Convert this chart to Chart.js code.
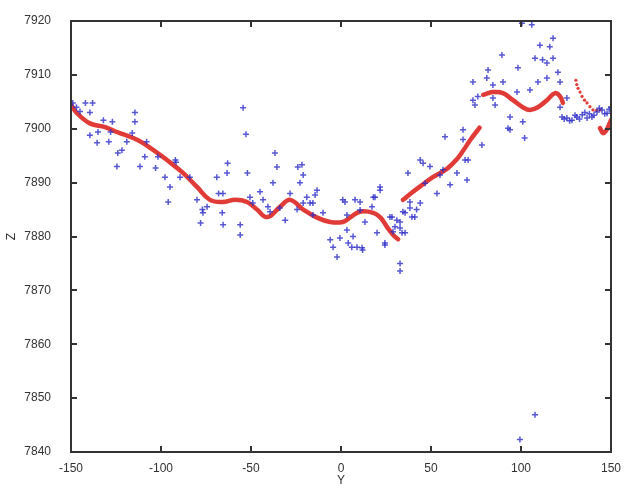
<!DOCTYPE html>
<html lang="en">
<head>
  <meta charset="UTF-8" />
  <title>Z profile along Y</title>
  <script src="https://cdn.jsdelivr.net/npm/chart.js"></script>
  <style>
    html, body { margin: 0; padding: 0; background: #fff; }
    #wrap { width: 628px; height: 488px; }
  </style>
</head>
<body>
<div id="wrap"><canvas id="chartCanvas" width="628" height="488"></canvas></div>

<script>
  // measured samples (blue crosses)
  const scanY = [
    -149, -147, -145, -142, -138, -139.5, -132, -127, -139.5, -135, -135.5, -129, -128,
    -114.5, -114.5, -121.7, -116, -119, -124.5, -124, -108, -109, -111.7, -103, -101.7,
    -92, -97.8, -89.4, -95, -96, -91.7, -84, -80, -77, -78, -74.4, -76.7, -69, -68, -66,
    -65.5, -65.6, -63, -63.3, -54.4, -52.8, -52, -56, -56, -50.6, -49, -45, -43.3, -40.6,
    -39.4, -37.8, -36.7, -35.6, -34, -31, -28.3, -24.4, -24, -21.7, -21, -22.8, -21, -19,
    -17.2, -15.6, -13.3, -14.4, -15.6, -10, -6, -4.4, -2.2, -0.6, 1, 3.3, 3.3, 4, 7.8, 6.7,
    6, 8.9, 2.2, 10.6, 10.6, 13.3, 12, 11.7, 17.2, 18, 21.7, 20, 24.4, 24.4, 27.2, 28.3,
    28.9, 30, 31, 32.8, 32.8, 33.9, 34.4, 35.6, 35.6, 38.3, 38.3, 39.4, 41, 42, 32.8, 32.8,
    18.9, 21.7, 37.2, 44, 45.6, 49.4, 53.3, 55, 56.7, 60.6, 64.4, 68.9, 70, 70.6, 46.7, 44,
    57.8, 67.8, 67.8, 78.3, 73.3, 73.3, 74.4, 76, 81, 81.7, 84.4, 84.4, 85.6, 89.4, 90,
    92.8, 93.9, 93.9, 97.8, 98.3, 100.5, 101, 102, 105, 106, 107.8, 109.4, 110.5, 112,
    114.4, 114.4, 116, 117.8, 117.8, 120.5, 121.7, 121.7, 125.5, 122.8, 124, 125.5, 127,
    128.3, 130, 131, 132.5, 134, 135.5, 136.7, 138, 139.4, 140.5, 142.2, 143.5, 145,
    146.5, 147.8, 149, 150, 99.4, 107.8
  ];
  const scanZ = [
    7904.8, 7904, 7903.2, 7904.8, 7904.8, 7903, 7901.6, 7901.3, 7898.8, 7899.4, 7897.4, 7897.6, 7899.4,
    7903, 7901.3, 7896, 7899.2, 7897.6, 7893, 7895.5, 7897.6, 7894.8, 7893, 7892.7, 7894.8,
    7894.2, 7891, 7891, 7889.2, 7886.4, 7893.8, 7891, 7886.8, 7885, 7882.5, 7885.5, 7884.4, 7891, 7888, 7884.4,
    7882.2, 7888, 7893.6, 7891.8, 7903.9, 7899, 7891.8, 7882.2, 7880.3, 7887.3, 7886.2, 7888.3, 7886.8, 7885.5,
    7884.6, 7890, 7895.5, 7892.9, 7885.3, 7883, 7888, 7885, 7892.9, 7893.3, 7891.4, 7890, 7886.2, 7887.3,
    7886.2, 7884, 7888.6, 7887.7, 7886.2, 7884.4, 7879.4, 7878, 7876.2, 7879.7, 7886.8, 7881.2, 7884, 7878.8, 7886.8, 7880,
    7878, 7878, 7886.4, 7884.9, 7886.4, 7882.7, 7877.5, 7877.9, 7885.5, 7887.3, 7888.6, 7880.7, 7878.8, 7878.4, 7883.6, 7883.6,
    7880.9, 7881.8, 7883, 7881.6, 7882.7, 7880.7, 7884.6, 7884.4, 7880.7, 7885.3, 7886.4, 7883.6, 7883.6, 7885, 7875, 7873.6,
    7887.3, 7889.2, 7891.8, 7894.2, 7893.6, 7893, 7888, 7891.4, 7892.4, 7889.6, 7891.8, 7894.2, 7890.5, 7894.2, 7889.9, 7886.2,
    7898.5, 7899.8, 7898, 7897, 7905.3, 7908.7, 7904.4, 7906, 7909.4, 7910.9, 7905.7, 7908.1, 7904.4, 7913.7, 7908.7,
    7900.1, 7902.2, 7899.8, 7906.8, 7911.3, 7919.6, 7901.3, 7898.3, 7907.2, 7919.3, 7913.1, 7908.7, 7915.5, 7912.8,
    7912.2, 7909.4, 7915.2, 7913.1, 7916.8, 7910.5, 7908.7, 7904, 7905.7, 7902.2, 7901.8, 7902, 7901.5,
    7901.6, 7902.5, 7902.2, 7901.8, 7902.6, 7903, 7902, 7902.8, 7902.2, 7902.5, 7903.1, 7903.8, 7903.5,
    7902.8, 7902.9, 7903.6, 7904, 7842.3, 7846.9
  ];

  // fitted profile, piecewise (red)
  const fitAY = [-150, -146.7, -139.5, -131, -124.5, -113, -104, -96.7, -87.8, -80, -72.8, -65.6,
                 -58.9, -52.2, -46.7, -41, -33.9, -28.3, -21, -13.3, -6, 1, 5, 10.5, 18, 22, 25.5, 29, 31.7];
  const fitAZ = [7904.5, 7902.9, 7901, 7900.3, 7899.4, 7897.9, 7896, 7894.2, 7891.8, 7889.2, 7886.8, 7886.4,
                 7886.8, 7886.4, 7885, 7883.6, 7885.5, 7886.8, 7885, 7883.5, 7882.7, 7882.7, 7883.5, 7884.6, 7884.4, 7883.5, 7881.8, 7880.3, 7879.5];
  const fitBY = [34.4, 40, 44, 51, 59, 64, 68, 72, 77];
  const fitBZ = [7886.8, 7888.3, 7889.3, 7891, 7892.6, 7894.2, 7896, 7898, 7900.2];
  const fitCY = [79, 84.4, 90, 95.6, 101, 105, 109.4, 114.4, 118.9, 121.7, 123.3];
  const fitCZ = [7906.3, 7906.8, 7906.6, 7905.3, 7904, 7903.5, 7904, 7905.3, 7906.6, 7906, 7904.8];
  const fitDY = [130.5, 131, 131.7, 132.8, 133.9, 135.3, 136.7, 138.3, 140, 142, 143.9];
  const fitDZ = [7909, 7908.2, 7907.5, 7906.8, 7906, 7905.3, 7904.8, 7904.1, 7903.5, 7903.4, 7903.5];
  const fitEY = [143.9, 145.6, 147, 148.3, 150];
  const fitEZ = [7900.1, 7899.2, 7899.5, 7900.3, 7901.6];

  const yTicks = [7840, 7850, 7860, 7870, 7880, 7890, 7900, 7910, 7920];
  const xTicks = [-150, -100, -50, 0, 50, 100, 150];

  const pts = (xs, zs) => xs.map((x, i) => ({ x: x, y: zs[i] }));

  const FONT = { family: 'Liberation Sans, Arial, sans-serif', size: 12 };
  const RED = 'rgba(222, 38, 34, 0.9)';
  const AXIS = '#333333';

  // axes box and short inward tick marks, drawn as filled strips
  const boxPlugin = {
    id: 'axesBox',
    afterDraw(chart) {
      const ctx = chart.ctx;
      const sx = chart.scales.x, sy = chart.scales.y;
      const l = Math.round(sx.getPixelForValue(-150));
      const r = Math.round(sx.getPixelForValue(150));
      const t = Math.round(sy.getPixelForValue(7920));
      const b = Math.round(sy.getPixelForValue(7840));
      const w = 2, len = 6;
      ctx.save();
      ctx.fillStyle = AXIS;
      ctx.fillRect(l - 1, t - 1, r - l + w, w);
      ctx.fillRect(l - 1, b - 1, r - l + w, w);
      ctx.fillRect(l - 1, t - 1, w, b - t + w);
      ctx.fillRect(r - 1, t - 1, w, b - t + w);
      xTicks.forEach(v => {
        const px = Math.round(sx.getPixelForValue(v));
        ctx.fillRect(px - 1, b - len, w, len);
        ctx.fillRect(px - 1, t, w, len);
      });
      yTicks.forEach(v => {
        const py = Math.round(sy.getPixelForValue(v));
        ctx.fillRect(l, py - 1, len, w);
        ctx.fillRect(r - len, py - 1, len, w);
      });
      ctx.restore();
    }
  };

  const lineSet = (xs, zs, width) => ({
    data: pts(xs, zs),
    showLine: true,
    borderColor: RED,
    borderWidth: width,
    pointRadius: 0,
    tension: 0.4,
    borderCapStyle: 'round'
  });

  new Chart(document.getElementById('chartCanvas'), {
    type: 'scatter',
    data: {
      datasets: [
        {
          data: pts(scanY, scanZ),
          pointStyle: 'cross',
          pointRadius: 3,
          pointBorderWidth: 1.5,
          borderColor: 'rgba(45, 45, 200, 0.8)',
          backgroundColor: 'rgba(45, 45, 200, 0.8)'
        },
        lineSet(fitAY, fitAZ, 4.5),
        lineSet(fitBY, fitBZ, 4.5),
        lineSet(fitCY, fitCZ, 4.5),
        {
          data: pts(fitDY, fitDZ),
          pointStyle: 'circle',
          pointRadius: 1.6,
          borderWidth: 0,
          backgroundColor: RED
        },
        lineSet(fitEY, fitEZ, 4.5)
      ]
    },
    options: {
      responsive: false,
      animation: false,
      layout: { padding: { top: 21, right: 17, left: 0, bottom: 0 } },
      plugins: { legend: { display: false }, tooltip: { enabled: false } },
      scales: {
        x: {
          type: 'linear',
          min: -150,
          max: 150,
          afterBuildTicks: s => { s.ticks = xTicks.map(v => ({ value: v })); },
          afterFit: s => { s.height = 36; },
          grid: { display: false },
          border: { display: false },
          ticks: { color: '#333', font: FONT, padding: 1, maxRotation: 0, callback: v => String(v) },
          title: { display: true, text: 'Y', color: '#333', font: FONT, padding: { top: 0, bottom: 0 } }
        },
        y: {
          type: 'linear',
          min: 7840,
          max: 7920,
          afterBuildTicks: s => { s.ticks = yTicks.map(v => ({ value: v })); },
          afterFit: s => { s.width = 71; },
          grid: { display: false },
          border: { display: false },
          ticks: { color: '#333', font: FONT, padding: 12, callback: v => String(v) },
          title: { display: true, text: 'Z', color: '#333', font: FONT, padding: { top: 4, bottom: 0 } }
        }
      }
    },
    plugins: [boxPlugin]
  });
</script>
</body>
</html>
